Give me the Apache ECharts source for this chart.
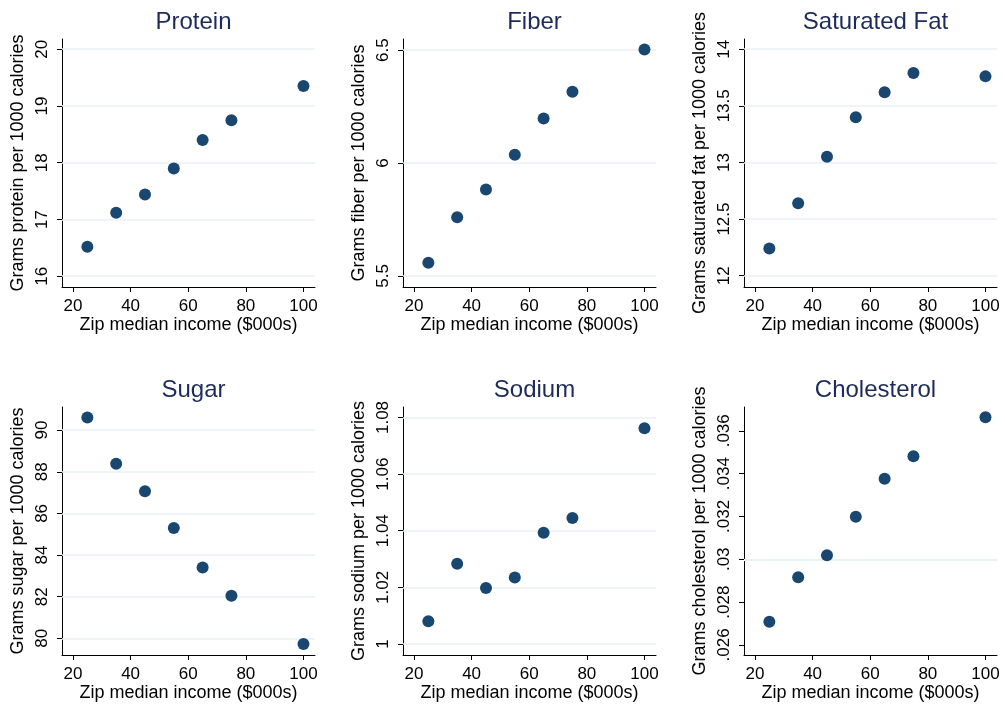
<!DOCTYPE html>
<html>
<head>
<meta charset="utf-8">
<script src="https://cdn.jsdelivr.net/npm/echarts@6/dist/echarts.min.js"></script>
<style>
  html, body { margin: 0; padding: 0; background: #fff; }
  #main { width: 1005px; height: 707px; }
</style>
</head>
<body>
<div id="main"></div>
<script>
// income bins (x), same for every panel
var income = [25, 35, 45, 55, 65, 75, 100];
var incomeTicks = [20, 40, 60, 80, 100];

// grams per 1000 calories
var protein     = [16.52, 17.12, 17.44, 17.90, 18.40, 18.75, 19.35];
var fiber       = [5.558, 5.760, 5.883, 6.037, 6.197, 6.315, 6.503];
var satFat      = [12.24, 12.64, 13.05, 13.40, 13.62, 13.79, 13.76];
var sugar       = [90.61, 88.38, 87.06, 85.30, 83.40, 82.05, 79.73];
var sodium      = [1.0080, 1.0283, 1.0198, 1.0235, 1.0393, 1.0445, 1.0762];
var cholesterol = [0.02708, 0.02916, 0.03019, 0.03199, 0.03376, 0.03481, 0.03663];

// y tick labels (gridlines are drawn at these)
var proteinTicks     = [16, 17, 18, 19, 20];
var fiberTicks       = [5.5, 6, 6.5];
var satFatTicks      = [12, 12.5, 13, 13.5, 14];
var sugarTicks       = [80, 82, 84, 86, 88, 90];
var sodiumTicks      = [1, 1.02, 1.04, 1.06, 1.08];
var cholesterolTicks = [0.026, 0.028, 0.03, 0.032, 0.034, 0.036];

var panels = [
    { title: 'Protein',       yName: 'Grams protein per 1000 calories',       data: protein,     ticks: proteinTicks,     min: 15.81, max: 20.18 },
    { title: 'Fiber',         yName: 'Grams fiber per 1000 calories',         data: fiber,       ticks: fiberTicks,       min: 5.451, max: 6.549 },
    { title: 'Saturated Fat', yName: 'Grams saturated fat per 1000 calories', data: satFat,      ticks: satFatTicks,      min: 11.90, max: 14.09 },
    { title: 'Sugar',         yName: 'Grams sugar per 1000 calories',         data: sugar,       ticks: sugarTicks,       min: 79.20, max: 91.11 },
    { title: 'Sodium',        yName: 'Grams sodium per 1000 calories',        data: sodium,      ticks: sodiumTicks,      min: 0.9961, max: 1.0837 },
    { title: 'Cholesterol',   yName: 'Grams cholesterol per 1000 calories',   data: cholesterol, ticks: cholesterolTicks, min: 0.02553, max: 0.03711 }
];

var colLeft = [62, 403, 744];
var rowTop = [39, 407];
var plotW = 253, plotH = 248;

var font = 'Liberation Sans, Arial, Helvetica, sans-serif';
var navy = '#1a476f';

// .026 style labels, like Stata
function fmtTick(v) {
    return String(+(+v).toFixed(4)).replace(/^0\./, '.');
}

function buildOptions() {
    var titles = [], grids = [], xAxes = [], yAxes = [], series = [];
    for (var i = 0; i < panels.length; i++) {
        var p = panels[i];
        var gLeft = colLeft[i % 3], gTop = rowTop[Math.floor(i / 3)];

        titles.push({
            text: p.title,
            left: gLeft + plotW / 2,
            top: gTop - 34,
            textAlign: 'center',
            textStyle: { fontFamily: font, fontSize: 24, fontWeight: 'normal', color: '#1c2b5a' }
        });

        grids.push({ left: gLeft, top: gTop, width: plotW, height: plotH });

        xAxes.push({
            type: 'value',
            gridIndex: i,
            min: 16.2,
            max: 104,
            name: 'Zip median income ($000s)',
            nameLocation: 'middle',
            nameGap: 29,
            nameMoveOverlap: false,
            nameTextStyle: { fontFamily: font, fontSize: 18, color: '#000' },
            axisLine: { show: true, onZero: false, lineStyle: { color: '#000', width: 1 } },
            axisTick: { show: true, length: 5, customValues: incomeTicks, lineStyle: { color: '#000' } },
            axisLabel: { customValues: incomeTicks, fontFamily: font, fontSize: 17, color: '#000', margin: 11 },
            splitLine: { show: false }
        });

        yAxes.push({
            type: 'value',
            gridIndex: i,
            min: p.min,
            max: p.max,
            name: p.yName,
            nameLocation: 'middle',
            nameGap: 35,
            nameMoveOverlap: false,
            nameTextStyle: { fontFamily: font, fontSize: 18, color: '#000' },
            axisLine: { show: true, onZero: false, lineStyle: { color: '#000', width: 1 } },
            axisTick: { show: true, length: 5, customValues: p.ticks, lineStyle: { color: '#000' } },
            axisLabel: {
                customValues: p.ticks,
                rotate: 90,
                fontFamily: font,
                fontSize: 17,
                color: '#000',
                margin: 11,
                formatter: fmtTick
            },
            splitLine: { show: false }
        });

        series.push({
            type: 'scatter',
            xAxisIndex: i,
            yAxisIndex: i,
            symbol: 'circle',
            symbolSize: 12,
            z: 3,
            itemStyle: { color: navy, opacity: 1 },
            data: income.map(function (x, k) { return [x, p.data[k]]; }),
            markLine: {
                silent: true,
                z: 1,
                symbol: 'none',
                animation: false,
                label: { show: false },
                lineStyle: { color: '#eaf2f3', type: 'solid', width: 1.5 },
                data: p.ticks.map(function (v) { return { yAxis: v }; })
            }
        });
    }
    return {
        backgroundColor: '#fff',
        animation: false,
        title: titles,
        grid: grids,
        xAxis: xAxes,
        yAxis: yAxes,
        series: series
    };
}

var myChart = echarts.init(document.getElementById('main'));
myChart.setOption(buildOptions(), true);
</script>
</body>
</html>
